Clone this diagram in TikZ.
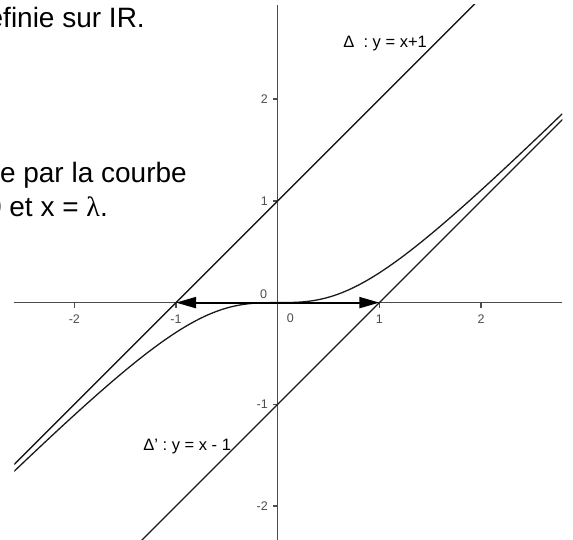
\documentclass[tikz,border=0pt]{standalone}
\usepackage{fontspec}
\setmainfont{Liberation Sans}
\newfontfamily\greekserif{Liberation Serif}
\usetikzlibrary{arrows.meta}

\begin{document}
\begin{tikzpicture}[x=101.7bp,y=101.7bp,
  axisline/.style={black!70, line width=1.5bp},
  ticklabel/.style={black!70, inner sep=0pt, font=\fontsize{12.5bp}{14bp}\selectfont},
  graphline/.style={black!90, line width=1.3bp},
  eqlabel/.style={inner sep=0pt, font=\fontsize{16.5bp}{19bp}\selectfont},
  cuttext/.style={inner sep=0pt, font=\fontsize{28bp}{32bp}\selectfont}]
\useasboundingbox (-2.731,-2.333) rectangle (2.904,2.976);
\coordinate (O) at (0,0);
\coordinate (Aplus) at (1,0);
\coordinate (Aminus) at (-1,0);
% axes
\draw[axisline] (-2.59,0) -- (2.80,0);
\draw[axisline] (0,-2.34) -- (0,2.93);
\draw[axisline] (-2,0) -- (-2,-0.05);
\draw[axisline] (-1,0) -- (-1,-0.05);
\draw[axisline] (1,0) -- (1,-0.05);
\draw[axisline] (2,0) -- (2,-0.05);
\draw[axisline] (0,2) -- (-0.05,2);
\draw[axisline] (0,1) -- (-0.05,1);
\draw[axisline] (0,-1) -- (-0.05,-1);
\draw[axisline] (0,-2) -- (-0.05,-2);
\node[ticklabel, anchor=north] (xm2) at (-2,-0.12) {-2};
\node[ticklabel, anchor=north] (xm1) at (-1,-0.12) {-1};
\node[ticklabel, anchor=north west] (x0) at (0.088,-0.104) {0};
\node[ticklabel, anchor=north] (x1) at (1,-0.12) {1};
\node[ticklabel, anchor=north] (x2) at (2,-0.12) {2};
\node[ticklabel, anchor=east] (y2) at (-0.095,2) {2};
\node[ticklabel, anchor=east] (y1) at (-0.095,1) {1};
\node[ticklabel, anchor=south east] (y0) at (-0.102,0.036) {0};
\node[ticklabel, anchor=east] (ym1) at (-0.095,-1) {-1};
\node[ticklabel, anchor=east] (ym2) at (-0.095,-2) {-2};
% asymptotes and curve
\begin{scope}
\clip (-2.59,-2.34) rectangle (2.80,2.93);
\draw[graphline] (-2.6,-1.6) -- (2.0,3.0);
\draw[graphline] (-1.4,-2.4) -- (2.9,1.9);
\draw[graphline] plot[domain=-2.6:2.8, samples=160, smooth] (\x,{\x-\x/sqrt(1+\x*\x)});
\end{scope}
% arrows from the origin
\draw[line width=1.9bp, -{Triangle[length=20bp,width=11bp]}] (O) -- (Aplus);
\draw[line width=1.9bp, -{Triangle[length=20bp,width=11bp]}] (O) -- (Aminus);
% labels
\node[eqlabel, anchor=west] (deltaplus) at (0.644,2.543) {Δ\ \ : y = x+1};
\node[eqlabel, anchor=west] (deltaminus) at (-1.323,-1.42) {Δ' : y = x - 1};
% cut text on the left
\node[cuttext, anchor=base east] (line1) at (-1.305,2.701) {efinie sur IR.};
\node[cuttext, anchor=base east] (line2) at (-0.892,1.177) {e par la courbe};
\node[cuttext, anchor=base east] (line3) at (-1.669,0.843) {0 et x = {\greekserif λ}.};
\end{tikzpicture}
\end{document}
